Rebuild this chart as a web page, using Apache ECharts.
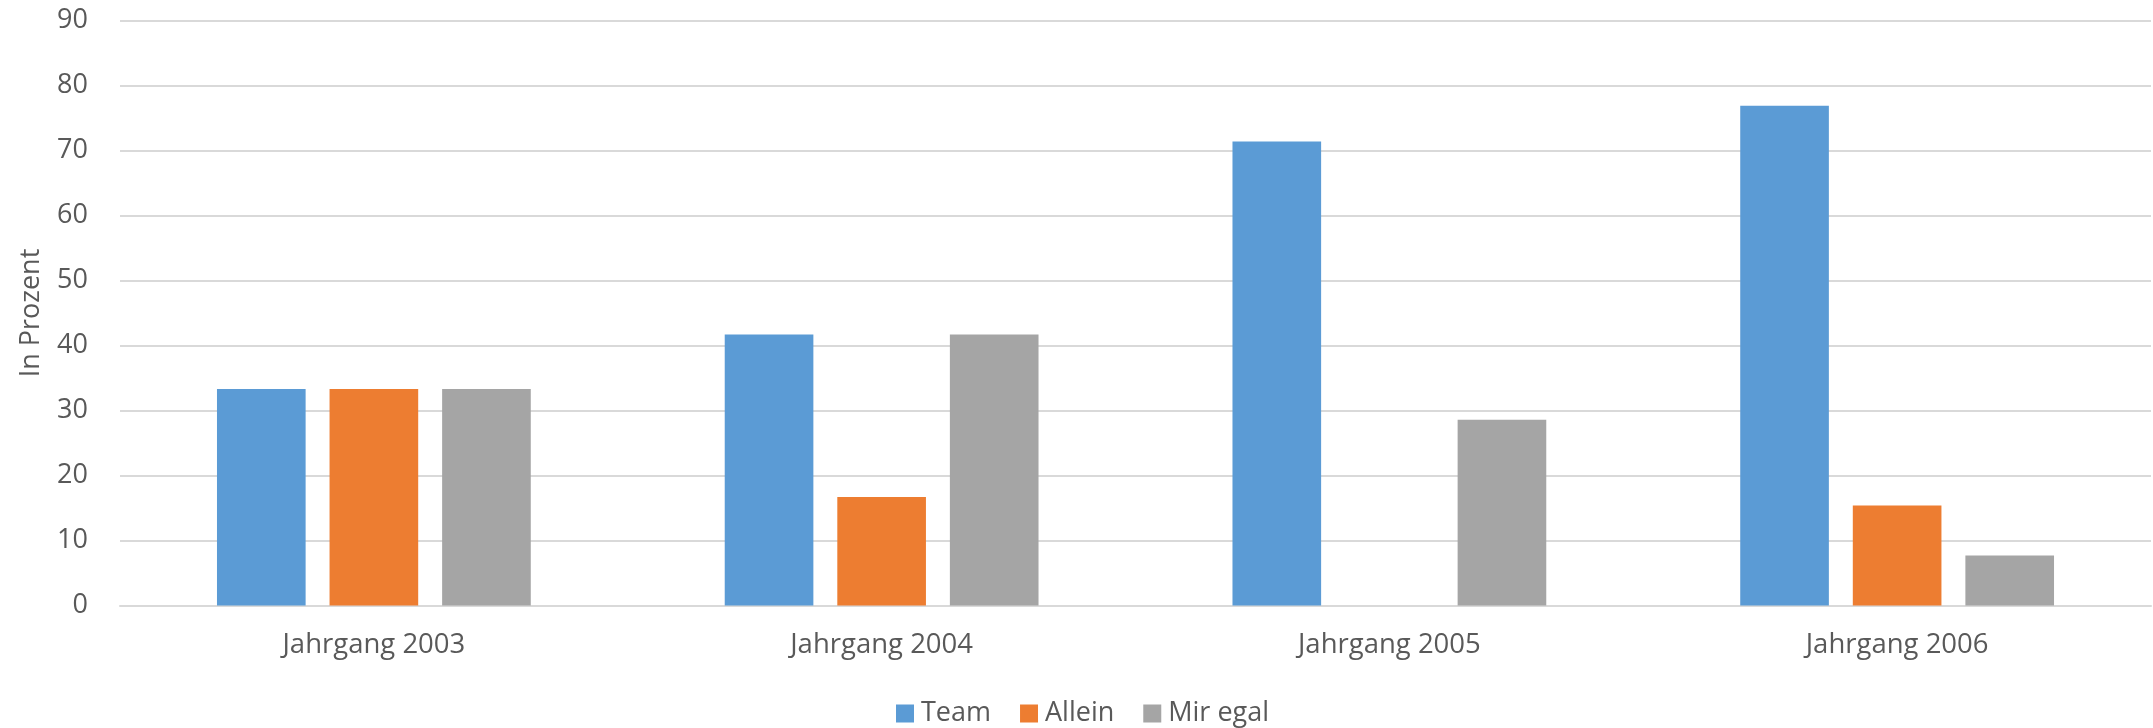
<!DOCTYPE html>
<html>
<head>
<meta charset="utf-8">
<script src="https://cdn.jsdelivr.net/npm/echarts@6/dist/echarts.min.js"></script>
<style>
  html, body { margin: 0; padding: 0; background: #fff; }
  #chart { width: 2153px; height: 728px; }
</style>
</head>
<body>
<div id="chart"></div>
<script>
// Daten
var jahrgaenge = ['Jahrgang 2003', 'Jahrgang 2004', 'Jahrgang 2005', 'Jahrgang 2006'];
var team = [33.3, 41.7, 71.4, 76.9];
var allein = [33.3, 16.7, 0, 15.4];
var mirEgal = [33.3, 41.7, 28.6, 7.7];
var yTicks = [0, 10, 20, 30, 40, 50, 60, 70, 80, 90];

var myChart = echarts.init(document.getElementById('chart'));

var textColor = '#595959';
var fontName = '"Open Sans", sans-serif';

var option = {
    animation: false,
    color: ['#5B9BD5', '#ED7D31', '#A5A5A5'],
    textStyle: { fontFamily: fontName },
    grid: { left: 120, right: 2, top: 20.6, bottom: 122.5 },
    legend: {
        data: ['Team', 'Allein', 'Mir egal'],
        left: 891,
        top: 695,
        itemWidth: 18,
        itemHeight: 18,
        itemGap: 29,
        icon: 'rect',
        textStyle: { color: textColor, fontSize: 27, fontFamily: fontName, padding: [0, 0, 0, 2] }
    },
    xAxis: {
        type: 'category',
        data: jahrgaenge,
        axisTick: { show: false },
        axisLine: { lineStyle: { color: '#D9D9D9', width: 2 } },
        axisLabel: { color: textColor, fontSize: 27.5, margin: 26 }
    },
    yAxis: {
        type: 'value',
        min: yTicks[0],
        max: yTicks[yTicks.length - 1],
        interval: 10,
        name: 'In Prozent',
        nameLocation: 'middle',
        nameGap: 75,
        nameTextStyle: { color: textColor, fontSize: 27 },
        axisLine: { show: false },
        axisTick: { show: false },
        axisLabel: { color: textColor, fontSize: 27, margin: 32 },
        splitLine: { lineStyle: { color: '#D9D9D9', width: 2 } }
    },
    series: [
        { name: 'Team', type: 'bar', data: team, barGap: '27%', barCategoryGap: '38.2%' },
        { name: 'Allein', type: 'bar', data: allein, barGap: '27%', barCategoryGap: '38.2%' },
        { name: 'Mir egal', type: 'bar', data: mirEgal, barGap: '27%', barCategoryGap: '38.2%' }
    ]
};

myChart.setOption(option);
</script>
</body>
</html>
